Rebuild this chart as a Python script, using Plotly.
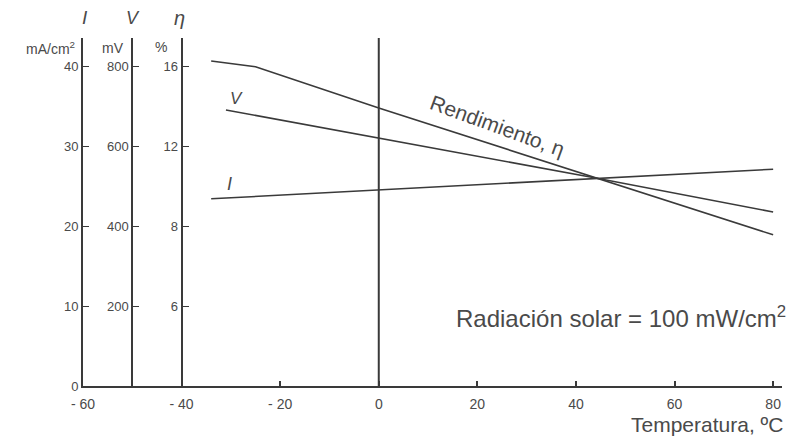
import plotly.graph_objects as go

# ---- data ----
temp_eta = [-34, -25, 0, 44, 80]
eta_pct = [16.25, 15.96, 13.9, 10.4, 7.56]      # efficiency, %

temp_v = [-31, 0, 44, 80]
volt_mv = [690, 620, 520, 435]                  # voltage, mV

temp_i = [-34, 0, 44, 80]
curr_ma = [23.4, 24.5, 26.0, 27.1]              # current, mA/cm2

x_ticks = [-60, -40, -20, 0, 20, 40, 60, 80]
i_ticks = [0, 10, 20, 30, 40]
v_ticks = [200, 400, 600, 800]
eta_tick_pos = [10, 20, 30, 40]                 # positions on the I scale
eta_tick_text = ["6", "8", "12", "16"]

# conversion of each series to the common (I) scale
ETA_TO_I = 2.5
V_TO_I = 1 / 20.0

YMAX = 43.5
XMIN, XMAX = -60, 81.8
LINE = "#3a3a3a"
TXT = "#4a4a4a"
FONT = "Liberation Sans, Arial, sans-serif"

# plot-area pixel geometry (used only to place header texts in paper coords)
ML, MR, MT, MB = 83, 4, 38, 52
W, H = 786, 438
PW, PH = W - ML - MR, H - MT - MB

fig = go.Figure()
fig.add_trace(go.Scatter(x=temp_eta, y=[e * ETA_TO_I for e in eta_pct], mode="lines",
                         line=dict(color=LINE, width=1.6), showlegend=False))
fig.add_trace(go.Scatter(x=temp_v, y=[v * V_TO_I for v in volt_mv], mode="lines",
                         line=dict(color=LINE, width=1.6), showlegend=False))
fig.add_trace(go.Scatter(x=temp_i, y=curr_ma, mode="lines",
                         line=dict(color=LINE, width=1.6), showlegend=False))

# vertical line at 0 degrees
fig.add_shape(type="line", x0=0, x1=0, y0=0, y1=YMAX, xref="x", yref="y",
              line=dict(color=LINE, width=2))

tickfont = dict(family=FONT, size=13, color=TXT)

fig.update_layout(
    width=W, height=H,
    margin=dict(l=ML, r=MR, t=MT, b=MB),
    paper_bgcolor="white", plot_bgcolor="white",
    xaxis=dict(range=[XMIN, XMAX], tickvals=x_ticks,
               ticktext=[str(t).replace("-", "- ") if t < 0 else str(t) for t in x_ticks],
               ticks="inside", ticklen=5, tickcolor=LINE, tickwidth=1.5,
               ticklabelstandoff=4,
               showline=True, linecolor=LINE, linewidth=2, showgrid=False,
               zeroline=False, tickfont=dict(family=FONT, size=14, color=TXT)),
    yaxis=dict(range=[0, YMAX], tickvals=i_ticks, ticktext=[str(t) for t in i_ticks],
               ticks="inside", ticklen=6, tickcolor=LINE, tickwidth=1.2,
               showline=True, linecolor=LINE, linewidth=2, showgrid=False,
               zeroline=False, tickfont=tickfont),
    yaxis2=dict(range=[0, YMAX / V_TO_I], tickvals=v_ticks, ticktext=[str(t) for t in v_ticks],
                overlaying="y", anchor="free", side="left",
                position=(-50 - XMIN) / (XMAX - XMIN),
                ticks="inside", ticklen=6, tickcolor=LINE, tickwidth=1.2,
                showline=True, linecolor=LINE, linewidth=2, showgrid=False,
                zeroline=False, tickfont=tickfont),
    yaxis3=dict(range=[0, YMAX], tickvals=eta_tick_pos, ticktext=eta_tick_text,
                overlaying="y", anchor="free", side="left",
                position=(-40 - XMIN) / (XMAX - XMIN),
                ticks="inside", ticklen=6, tickcolor=LINE, tickwidth=1.2,
                showline=True, linecolor=LINE, linewidth=2, showgrid=False,
                zeroline=False, tickfont=tickfont),
)
# dummy traces so the extra axes are drawn
fig.add_trace(go.Scatter(x=[None], y=[None], yaxis="y2", showlegend=False))
fig.add_trace(go.Scatter(x=[None], y=[None], yaxis="y3", showlegend=False))

ann = []
def A(text, x, y, size, xanchor="center", italic=False, angle=0, xref="x", yref="y", xshift=0):
    if italic:
        text = "<i>" + text + "</i>"
    ann.append(dict(text=text, x=x, y=y, xref=xref, yref=yref, showarrow=False,
                    xanchor=xanchor, yanchor="middle", textangle=angle, xshift=xshift,
                    font=dict(family=FONT, size=size, color=TXT)))

def P(px, py, text, size, xanchor="center", italic=False):
    A(text, (px - ML) / PW, (H - MB - py) / PH, size, xanchor=xanchor, italic=italic,
      xref="paper", yref="paper")

# axis headers and units (outside the plot area, paper coordinates)
P(85, 18, "I", 19, italic=True)
P(133, 18, "V", 18, italic=True)
P(179, 18, "η", 20, italic=True)
P(77, 48, "mA/cm<sup>2</sup>", 14, xanchor="right")
P(126, 48, "mV", 14, xanchor="right")
P(169, 47, "%", 14, xanchor="right")

# curve labels
A("I", -30.3, 25.2, 18, italic=True)
A("V", -28.8, 36.0, 17, italic=True)
A("Rendimiento, η", 24.0, 32.6, 21, angle=20)
A("Radiación solar = 100 mW/cm<sup>2</sup>", 15.3, 8.6, 24, xanchor="left")
P(785, 424, "Temperatura, ºC", 21, xanchor="right")

fig.update_layout(annotations=ann)
fig.write_html("out.html")
